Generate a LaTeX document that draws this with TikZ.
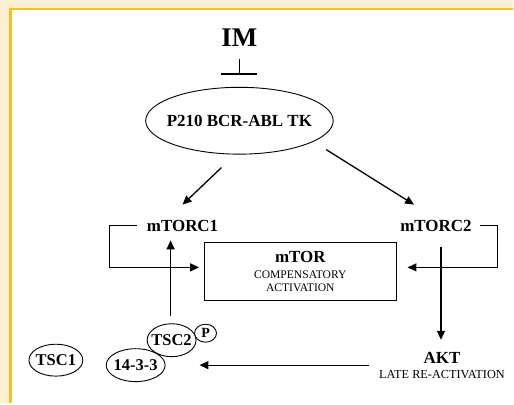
\documentclass[tikz,border=0pt]{standalone}
\usepackage{fontspec}
\setmainfont{Liberation Serif}
\usepackage{tikz}
\usetikzlibrary{positioning,arrows.meta,calc,shapes.geometric}
\definecolor{cream}{HTML}{FCEFD2}
\definecolor{gold}{HTML}{F5C21B}
\tikzset{
  lbl/.style={inner sep=2pt, font=\fontsize{17}{19}\selectfont\bfseries},
  prot/.style={ellipse, draw=black, fill=white, line width=0.9pt, inner sep=0pt,
               inner xsep=-3pt, font=\fontsize{16.5}{18}\selectfont\bfseries},
  tor/.style={rectangle, draw=black, line width=0.9pt, align=center,
              minimum width=192pt, minimum height=58pt},
  actarr/.style={-{Triangle[length=9pt,width=8pt]}, line width=1.3pt},
  inharr/.style={-{Bar[width=36pt]}, line width=1.4pt},
}
\begin{document}
\begin{tikzpicture}[x=1pt,y=-1pt]
% frame: cream margin, gold rule, white page
\fill[cream] (0,0) rectangle (514,404);
\fill[white] (11,9) rectangle (514,404);
\draw[gold, line width=2.4pt] (10.5,404) -- (10.5,9) -- (514,9);
\useasboundingbox (0,0) rectangle (514,404);

% drug and kinase
\node[inner sep=2pt, font=\fontsize{27}{29}\selectfont\bfseries] (im) at (240,38) {IM};
\node[ellipse, draw=black, line width=0.9pt, minimum width=188pt, minimum height=67pt,
      inner sep=0pt, inner xsep=-7pt, font=\fontsize{17}{19}\selectfont\bfseries] (bcr) at (240,121) {P210 BCR-ABL TK};
\draw[inharr] ([yshift=-10pt]im.south) -- ([yshift=12pt]bcr.north);

% complexes
\node[lbl] (m1) at (183,226) {mTORC1};
\node[lbl] (m2) at (437,226) {mTORC2};
\node[tor, font=\fontsize{11.6}{13}\selectfont] (mtor) at (301,272)
  {{\fontsize{17}{19}\selectfont\bfseries mTOR}\\[3pt] COMPENSATORY\\ ACTIVATION};
\node[align=center, inner sep=3pt, font=\fontsize{12.3}{14}\selectfont] (akt) at (443,366)
  {{\fontsize{17}{19}\selectfont\bfseries AKT}\\[1pt] LATE RE-ACTIVATION};

% TSC complex
\node[prot, minimum width=54pt, minimum height=32pt] (tsc1) at (56,361) {TSC1};
\node[prot, minimum width=59pt, minimum height=33pt] (p1433) at (136,366) {14-3-3};
\node[prot, minimum width=49pt, minimum height=33pt] (tsc2) at (172,341) {TSC2};
\node[prot, minimum width=22pt, minimum height=18pt, inner xsep=-1pt,
      font=\fontsize{14}{16}\selectfont\bfseries] (pho) at (206,334) {P};

% signalling
\draw[actarr] ([xshift=-18pt,yshift=-13pt]bcr.south) -- ([yshift=13pt]m1.north);
\draw[actarr] ($(bcr.center)+(87,29)$) -- ($(m2.north)+(-22,-13)$);
\draw[actarr, shorten <=8pt, shorten >=5pt] (m1.west) -- ++(-35,0) |- ([yshift=4pt]mtor.west);
\draw[actarr, shorten <=6pt, shorten >=11pt] (m2.east) -- ++(24,0) |- ([yshift=4pt]mtor.east);
\draw[actarr, shorten >=7pt] ([xshift=-1pt,yshift=7pt]tsc2.north) -- ([xshift=-1pt]tsc2.north |- m1.south);
\draw[actarr, shorten <=14pt, shorten >=9pt] ([xshift=5pt]m2.south) -- ($(m2.south |- akt.north)+(5,0)$);
\draw[actarr] ([xshift=-7pt]akt.west) -- ($(tsc2.east |- akt.west)+(3,0)$);
\end{tikzpicture}
\end{document}
